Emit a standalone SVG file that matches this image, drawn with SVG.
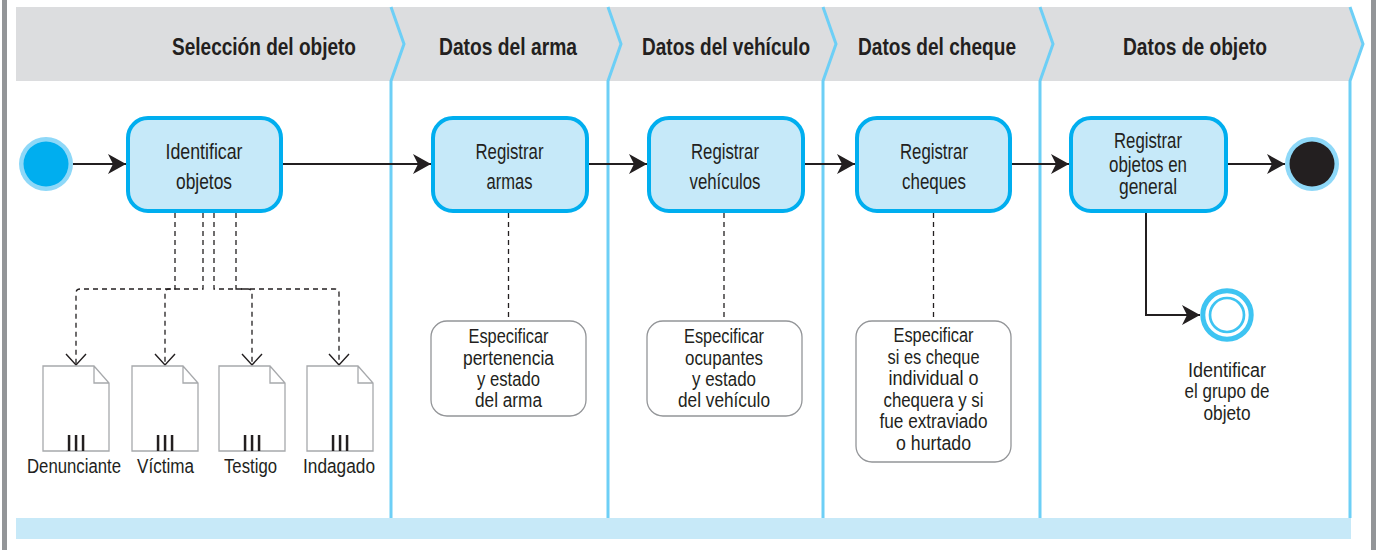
<svg xmlns="http://www.w3.org/2000/svg" width="1378" height="550" viewBox="0 0 1378 550">
<defs>
<style>
text{font-family:"Liberation Sans Narrow","Liberation Sans",Arial,sans-serif;fill:#231f20;text-anchor:middle}
.hd{font-weight:bold;font-size:24px}
.nt{font-size:21.5px}
.no{font-size:20px}
.lb{font-size:20px}
.gl{font-size:19.5px}
.lane{fill:none;stroke:#6dcff6;stroke-width:3}
.act{fill:#c6e9f9;stroke:#00aeef;stroke-width:4}
.note{fill:#fff;stroke:#939598;stroke-width:1.3}
.doc{fill:#fff;stroke:#a7a9ac;stroke-width:1.3}
.bar{fill:#231f20}
.flow{fill:none;stroke:#231f20;stroke-width:2;marker-end:url(#ah)}
.dash{fill:none;stroke:#231f20;stroke-width:1.3;stroke-dasharray:5 4}
.dasha{fill:none;stroke:#231f20;stroke-width:1.3;stroke-dasharray:5 4;marker-end:url(#va)}
</style>
<marker id="ah" markerUnits="userSpaceOnUse" markerWidth="18" markerHeight="20" refX="18" refY="10" orient="auto" viewBox="0 0 18 20">
<path d="M0,0 L18,10 L0,20 L5,10 Z" fill="#231f20"/>
</marker>
<marker id="va" markerUnits="userSpaceOnUse" markerWidth="24" markerHeight="14" refX="12" refY="12" orient="0" viewBox="0 0 24 14">
<path d="M2,1 L12,12 L22,1" fill="none" stroke="#231f20" stroke-width="1.4" stroke-dasharray="none"/>
</marker>
</defs>
<rect x="0" y="0" width="1378" height="550" fill="#fff"/>
<rect x="2" y="0" width="5" height="550" fill="#939598"/>
<rect x="1371" y="0" width="5" height="550" fill="#939598"/>
<g id="header">
<polygon points="16,7 1350,7 1363,44 1350,81 16,81" fill="#dcdddf"/>
<rect x="16" y="518" width="1335" height="21" fill="#c7e9f8"/>
<polyline class="lane" points="391,7 404,44 391,81 391,518"/>
<polyline class="lane" points="608,7 621,44 608,81 608,518"/>
<polyline class="lane" points="823,7 836,44 823,81 823,518"/>
<polyline class="lane" points="1040,7 1053,44 1040,81 1040,518"/>
<polyline class="lane" points="1350,7 1363,44 1350,81 1350,518"/>
<text class="hd" x="264" y="55" textLength="184" lengthAdjust="spacingAndGlyphs">Selección del objeto</text>
<text class="hd" x="508" y="55" textLength="138" lengthAdjust="spacingAndGlyphs">Datos del arma</text>
<text class="hd" x="726" y="55" textLength="168" lengthAdjust="spacingAndGlyphs">Datos del vehículo</text>
<text class="hd" x="937" y="55" textLength="158" lengthAdjust="spacingAndGlyphs">Datos del cheque</text>
<text class="hd" x="1195" y="55" textLength="144" lengthAdjust="spacingAndGlyphs">Datos de objeto</text>
</g>
<g id="connectors">
<line class="flow" x1="73" y1="164" x2="126" y2="164"/>
<line class="flow" x1="283" y1="164" x2="431" y2="164"/>
<line class="flow" x1="589" y1="164" x2="647" y2="164"/>
<line class="flow" x1="805" y1="164" x2="855" y2="164"/>
<line class="flow" x1="1012" y1="164" x2="1069" y2="164"/>
<line class="flow" x1="1228" y1="164" x2="1285" y2="164"/>
<path class="flow" d="M1146,213 V315 H1200"/>
<path class="dasha" d="M175,213 V289 H80 Q76,289 76,293 V365"/>
<path class="dasha" d="M203,213 V289 H169 Q165,289 165,293 V365"/>
<path class="dasha" d="M214,213 V289 H248 Q252,289 252,293 V365"/>
<path class="dasha" d="M236,213 V289 H335 Q339,289 339,293 V365"/>
<line class="dash" x1="508.5" y1="213" x2="508.5" y2="318"/>
<line class="dash" x1="724" y1="213" x2="724" y2="318"/>
<line class="dash" x1="933.5" y1="213" x2="933.5" y2="318"/>
</g>
<g id="start">
<circle cx="46" cy="164" r="27" fill="#8ed8f8"/>
<circle cx="46" cy="164" r="22.5" fill="#00aeef"/>
</g>
<g id="end">
<circle cx="1312" cy="164" r="27" fill="#8ed8f8"/>
<circle cx="1312" cy="164" r="22.5" fill="#231f20"/>
</g>
<g id="identificar-objetos">
<rect class="act" x="128" y="118" width="153" height="93" rx="20"/>
<text class="nt" x="204" y="158.5" textLength="77" lengthAdjust="spacingAndGlyphs">Identificar</text>
<text class="nt" x="204" y="188.5" textLength="56" lengthAdjust="spacingAndGlyphs">objetos</text>
</g>
<g id="registrar-armas">
<rect class="act" x="433" y="118" width="154" height="93" rx="20"/>
<text class="nt" x="509.5" y="158.5" textLength="68" lengthAdjust="spacingAndGlyphs">Registrar</text>
<text class="nt" x="509.5" y="188.5" textLength="46" lengthAdjust="spacingAndGlyphs">armas</text>
</g>
<g id="registrar-vehiculos">
<rect class="act" x="649" y="118" width="154" height="93" rx="20"/>
<text class="nt" x="725" y="158.5" textLength="68" lengthAdjust="spacingAndGlyphs">Registrar</text>
<text class="nt" x="725" y="188.5" textLength="71" lengthAdjust="spacingAndGlyphs">vehículos</text>
</g>
<g id="registrar-cheques">
<rect class="act" x="857" y="118" width="153" height="93" rx="20"/>
<text class="nt" x="934" y="158.5" textLength="68" lengthAdjust="spacingAndGlyphs">Registrar</text>
<text class="nt" x="934" y="188.5" textLength="64" lengthAdjust="spacingAndGlyphs">cheques</text>
</g>
<g id="registrar-objetos">
<rect class="act" x="1071" y="118" width="155" height="93" rx="20"/>
<text class="nt" x="1148" y="148.3" textLength="68" lengthAdjust="spacingAndGlyphs">Registrar</text>
<text class="nt" x="1148" y="171.7" textLength="78" lengthAdjust="spacingAndGlyphs">objetos en</text>
<text class="nt" x="1148" y="194.3" textLength="58" lengthAdjust="spacingAndGlyphs">general</text>
</g>
<g id="identificar-grupo">
<circle cx="1227" cy="315" r="24.2" fill="#fff" stroke="#3ec4f2" stroke-width="5"/>
<circle cx="1227" cy="315" r="17" fill="none" stroke="#3ec4f2" stroke-width="2.7"/>
<text class="gl" x="1227" y="376.7" textLength="78" lengthAdjust="spacingAndGlyphs">Identificar</text>
<text class="gl" x="1227" y="398.3" textLength="85" lengthAdjust="spacingAndGlyphs">el grupo de</text>
<text class="gl" x="1227" y="420" textLength="47" lengthAdjust="spacingAndGlyphs">objeto</text>
</g>
<g id="nota-arma">
<rect class="note" x="431" y="321" width="155" height="95" rx="16"/>
<text class="no" x="508.5" y="343" textLength="80" lengthAdjust="spacingAndGlyphs">Especificar</text>
<text class="no" x="508.5" y="364.5" textLength="91" lengthAdjust="spacingAndGlyphs">pertenencia</text>
<text class="no" x="508.5" y="386" textLength="63" lengthAdjust="spacingAndGlyphs">y estado</text>
<text class="no" x="508.5" y="407" textLength="67" lengthAdjust="spacingAndGlyphs">del arma</text>
</g>
<g id="nota-vehiculo">
<rect class="note" x="647" y="321" width="155" height="95" rx="16"/>
<text class="no" x="724" y="343" textLength="80" lengthAdjust="spacingAndGlyphs">Especificar</text>
<text class="no" x="724" y="364.5" textLength="78" lengthAdjust="spacingAndGlyphs">ocupantes</text>
<text class="no" x="724" y="386" textLength="64" lengthAdjust="spacingAndGlyphs">y estado</text>
<text class="no" x="724" y="407" textLength="92" lengthAdjust="spacingAndGlyphs">del vehículo</text>
</g>
<g id="nota-cheque">
<rect class="note" x="856" y="321" width="155" height="141" rx="16"/>
<text class="no" x="933.5" y="342" textLength="80" lengthAdjust="spacingAndGlyphs">Especificar</text>
<text class="no" x="933.5" y="363.5" textLength="92" lengthAdjust="spacingAndGlyphs">si es cheque</text>
<text class="no" x="933.5" y="385" textLength="90" lengthAdjust="spacingAndGlyphs">individual o</text>
<text class="no" x="933.5" y="406.5" textLength="100" lengthAdjust="spacingAndGlyphs">chequera y si</text>
<text class="no" x="933.5" y="428" textLength="108" lengthAdjust="spacingAndGlyphs">fue extraviado</text>
<text class="no" x="933.5" y="449.5" textLength="75" lengthAdjust="spacingAndGlyphs">o hurtado</text>
</g>
<g id="doc-denunciante">
<path class="doc" d="M43,366 H94 L109,383 V451 H43 Z M94,366 V383 H109"/>
<rect class="bar" x="67.8" y="435" width="2.5" height="16"/>
<rect class="bar" x="74.8" y="435" width="2.5" height="16"/>
<rect class="bar" x="81.8" y="435" width="2.5" height="16"/>
<text class="lb" x="74" y="473" textLength="94" lengthAdjust="spacingAndGlyphs">Denunciante</text>
</g>
<g id="doc-victima">
<path class="doc" d="M132,366 H183 L198,383 V451 H132 Z M183,366 V383 H198"/>
<rect class="bar" x="156.8" y="435" width="2.5" height="16"/>
<rect class="bar" x="163.8" y="435" width="2.5" height="16"/>
<rect class="bar" x="170.8" y="435" width="2.5" height="16"/>
<text class="lb" x="165.5" y="473" textLength="57" lengthAdjust="spacingAndGlyphs">Víctima</text>
</g>
<g id="doc-testigo">
<path class="doc" d="M219,366 H270 L285,383 V451 H219 Z M270,366 V383 H285"/>
<rect class="bar" x="243.8" y="435" width="2.5" height="16"/>
<rect class="bar" x="250.8" y="435" width="2.5" height="16"/>
<rect class="bar" x="257.8" y="435" width="2.5" height="16"/>
<text class="lb" x="250.5" y="473" textLength="53" lengthAdjust="spacingAndGlyphs">Testigo</text>
</g>
<g id="doc-indagado">
<path class="doc" d="M307,366 H358 L373,383 V451 H307 Z M358,366 V383 H373"/>
<rect class="bar" x="331.8" y="435" width="2.5" height="16"/>
<rect class="bar" x="338.8" y="435" width="2.5" height="16"/>
<rect class="bar" x="345.8" y="435" width="2.5" height="16"/>
<text class="lb" x="339" y="473" textLength="72" lengthAdjust="spacingAndGlyphs">Indagado</text>
</g>
</svg>
